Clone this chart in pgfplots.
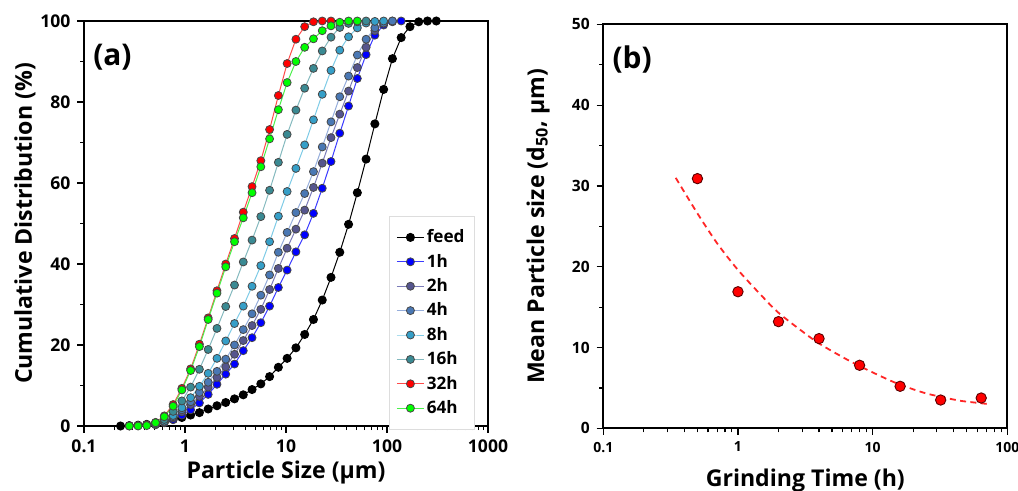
\documentclass[border=0pt]{standalone}
\usepackage{pgfplots}
\pgfplotsset{compat=1.18}
\usepackage{fontspec}
\setmainfont{Open Sans}

\definecolor{cfeed}{HTML}{000000}
\definecolor{c1h}{HTML}{0000FF}
\definecolor{l1h}{HTML}{3A3AFF}
\definecolor{c2h}{HTML}{55558E}
\definecolor{l2h}{HTML}{7B7BB8}
\definecolor{c4h}{HTML}{4A78B4}
\definecolor{l4h}{HTML}{95ADDB}
\definecolor{c8h}{HTML}{359FC8}
\definecolor{l8h}{HTML}{7ECBE6}
\definecolor{c16h}{HTML}{3A8A93}
\definecolor{l16h}{HTML}{84B9BE}
\definecolor{c32h}{HTML}{FF0000}
\definecolor{l32h}{HTML}{FF4A4A}
\definecolor{c64h}{HTML}{00FF00}
\definecolor{l64h}{HTML}{4CF04C}
\definecolor{legfr}{HTML}{DDDDDD}

\pgfplotsset{
  panel/.style={
    scale only axis,
    axis line style={line width=1bp},
    tick align=outside,
    tick pos=left,
    major tick length=3.3bp,
    minor tick length=2bp,
    every tick/.style={black, line width=0.6bp},
    clip=false,
    label style={font=\bfseries\fontsize{11.6}{13}\selectfont},
  },
  ser/.style n args={2}{color=#2, line width=0.5bp, mark=*, mark size=2.0bp,
    mark options={draw=black!72, line width=0.4bp, fill=#1, solid}},
}

\begin{document}
\begin{tikzpicture}
%%%%%%%%%%%%%%%% (a)
\begin{axis}[panel, xmode=log,
  at={(42bp,32.5bp)}, anchor=south west,
  width=202bp, height=202.5bp,
  xmin=0.1, xmax=1000, ymin=0, ymax=100,
  xtick={0.1,1,10,100,1000}, xticklabels={0.1,1,10,100,1000},
  minor xtick={0.2,0.3,0.4,0.5,0.6,0.7,0.8,0.9,2,3,4,5,6,7,8,9,20,30,40,50,60,70,80,90,200,300,400,500,600,700,800,900},
  ytick={0,20,40,60,80,100}, yticklabels={0,20,40,60,80,100},
  minor ytick={10,30,50,70,90},
  tick label style={font=\bfseries\fontsize{8.8}{10}\selectfont},
  xlabel={Particle Size (µm)},
  ylabel={Cumulative Distribution (\%)},
  x label style={at={(axis description cs:0.5,-0.1136)}, anchor=center},
  y label style={at={(axis description cs:-0.146,0.5)}, anchor=center},
  legend style={at={(0.755,0.5185)}, anchor=north west, draw=legfr, line width=0.4bp,
    font=\bfseries\fontsize{8.6}{9}\selectfont, inner xsep=3.5bp, inner ysep=5.5bp,
    row sep=2.2bp,
    nodes={inner sep=1.2bp, text height=6.4bp, text depth=1.2bp}},
  legend cell align=left,
  legend image code/.code={\draw[mark repeat=2,mark phase=2] plot coordinates {(0bp,0bp) (6.75bp,0bp) (13.5bp,0bp)};},
]
\addplot[ser={cfeed}{cfeed}, mark options={draw=black, fill=black}] table {
x y
0.230 0.0
0.281 0.1
0.343 0.2
0.418 0.4
0.511 0.7
0.624 1.1
0.763 1.6
0.931 2.1
1.137 2.7
1.389 3.3
1.696 4.2
2.073 5.0
2.531 5.8
3.092 6.7
3.776 7.7
4.612 9.0
5.634 10.4
6.880 12.2
8.404 14.5
10.26 16.7
12.54 19.3
15.31 22.6
18.70 26.3
22.85 31.1
27.90 36.7
34.08 42.9
41.63 49.8
50.84 57.6
62.10 65.9
75.85 74.6
92.64 83.1
113.2 90.7
138.2 95.9
168.8 98.6
206.2 99.8
251.8 100
307.6 100
};
\addlegendentry{feed}
\addplot[ser={c1h}{l1h}] table {
x y
0.511 0.3
0.624 0.8
0.763 1.6
0.931 2.7
1.137 4.0
1.389 5.7
1.696 7.8
2.073 10.3
2.531 12.8
3.092 15.3
3.776 18.6
4.612 21.8
5.634 25.5
6.880 29.6
8.404 34.2
10.26 38.5
12.54 43.0
15.31 47.2
18.70 52.5
22.85 58.7
27.90 65.3
34.08 72.3
41.63 79.0
50.84 85.8
62.10 91.7
75.85 96.5
92.64 99.0
113.2 99.8
138.2 100
};
\addlegendentry{1h}
\addplot[ser={c2h}{l2h}] table {
x y
0.511 0.4
0.624 1.0
0.763 2.0
0.931 3.5
1.137 5.3
1.389 7.3
1.696 9.6
2.073 12.0
2.531 14.6
3.092 17.7
3.776 21.1
4.612 24.8
5.634 28.8
6.880 33.7
8.404 38.9
10.26 43.9
12.54 48.6
15.31 53.3
18.70 58.9
22.85 64.9
27.90 71.2
34.08 77.0
41.63 82.7
50.84 88.5
62.10 93.5
75.85 97.6
92.64 99.4
113.2 100
};
\addlegendentry{2h}
\addplot[ser={c4h}{l4h}] table {
x y
0.511 0.4
0.624 1.1
0.763 2.3
0.931 4.0
1.137 6.0
1.389 8.3
1.696 10.8
2.073 13.5
2.531 16.5
3.092 20.0
3.776 23.8
4.612 27.7
5.634 32.3
6.880 37.3
8.404 42.9
10.26 47.8
12.54 52.7
15.31 57.4
18.70 62.8
22.85 68.9
27.90 75.1
34.08 81.3
41.63 86.4
50.84 91.6
62.10 95.5
75.85 98.3
92.64 99.5
113.2 100
};
\addlegendentry{4h}
\addplot[ser={c8h}{l8h}] table {
x y
0.511 0.4
0.624 1.2
0.763 2.6
0.931 4.5
1.137 7.0
1.389 9.8
1.696 13.0
2.073 16.7
2.531 21.0
3.092 25.3
3.776 29.6
4.612 34.5
5.634 39.6
6.880 45.5
8.404 51.8
10.26 57.9
12.54 63.6
15.31 69.4
18.70 75.6
22.85 81.9
27.90 87.8
34.08 92.8
41.63 96.1
50.84 98.3
62.10 99.5
75.85 99.9
92.64 100
};
\addlegendentry{8h}
\addplot[ser={c16h}{l16h}] table {
x y
0.511 0.5
0.624 1.6
0.763 3.6
0.931 6.2
1.137 9.6
1.389 14.0
1.696 18.9
2.073 24.1
2.531 29.5
3.092 34.8
3.776 40.5
4.612 45.9
5.634 51.7
6.880 58.2
8.404 65.1
10.26 72.0
12.54 78.0
15.31 83.4
18.70 88.3
22.85 92.6
27.90 96.0
34.08 98.4
41.63 99.4
50.84 99.8
62.10 100
};
\addlegendentry{16h}
\addplot[ser={c32h}{l32h}] table {
x y
0.281 0.0
0.343 0.1
0.418 0.3
0.511 0.9
0.624 2.5
0.763 5.3
0.931 9.3
1.137 14.1
1.389 20.2
1.696 26.7
2.073 33.4
2.531 40.0
3.092 46.3
3.776 52.8
4.612 59.1
5.634 65.5
6.880 73.2
8.404 81.6
10.26 89.5
12.54 95.5
15.31 98.6
18.70 99.8
22.85 100
27.90 100
};
\addlegendentry{32h}
\addplot[ser={c64h}{l64h}] table {
x y
0.281 0.0
0.343 0.0
0.418 0.1
0.511 0.8
0.624 2.3
0.763 4.9
0.931 8.9
1.137 13.7
1.389 19.6
1.696 26.3
2.073 32.8
2.531 39.3
3.092 45.5
3.776 51.4
4.612 57.6
5.634 64.0
6.880 70.9
8.404 78.1
10.26 84.8
12.54 90.0
15.31 93.5
18.70 95.6
22.85 97.6
27.90 98.8
34.08 99.7
41.63 100
50.84 100
};
\addlegendentry{64h}
\node[anchor=west, inner sep=0pt, font=\bfseries\fontsize{15}{18}\selectfont] at (rel axis cs:0.022,0.911) {(a)};
\end{axis}
%%%%%%%%%%%%%%%% (b)
\begin{axis}[panel, xmode=log,
  at={(301.65bp,31.35bp)}, anchor=south west,
  width=202bp, height=202bp,
  xmin=0.1, xmax=100, ymin=0, ymax=50,
  xtick={0.1,1,10,100}, xticklabels={0.1,1,10,100},
  minor xtick={0.2,0.3,0.4,0.5,0.6,0.7,0.8,0.9,2,3,4,5,6,7,8,9,20,30,40,50,60,70,80,90},
  ytick={0,10,20,30,40,50}, yticklabels={0,10,20,30,40,50},
  minor ytick={5,15,25,35,45},
  xticklabel style={font=\bfseries\fontsize{7}{8}\selectfont},
  yticklabel style={font=\bfseries\fontsize{7.8}{9}\selectfont},
  xlabel={Grinding Time (h)},
  ylabel={Mean Particle size (d\textsubscript{50}, µm)},
  x label style={at={(axis description cs:0.5,-0.128)}, anchor=center},
  y label style={at={(axis description cs:-0.1616,0.5)}, anchor=center},
]
\addplot[color=red!85!white, line width=0.9bp, dash pattern=on 3bp off 2.2bp, smooth] coordinates {
(0.345,31.0) (0.5,26.6) (0.7,22.9) (1,19.6) (1.5,16.4) (2,14.3) (3,12.0) (4,10.5)
(6,8.8) (8,7.7) (12,6.3) (16,5.4) (24,4.4) (32,3.9) (45,3.4) (64,3.1) (72,3.0)
};
\addplot[only marks, mark=*, mark size=2.6bp, mark options={fill=red, draw=black!65!red, line width=0.45bp}] coordinates {
(0.5,30.9) (1,16.9) (2,13.2) (4,11.1) (8,7.8) (16,5.2) (32,3.5) (64,3.75)
};
\node[anchor=west, inner sep=0pt, font=\bfseries\fontsize{15}{18}\selectfont] at (rel axis cs:0.022,0.914) {(b)};
\end{axis}
\pgfresetboundingbox
\path[use as bounding box] (0,0) rectangle (509bp,245.5bp);
\end{tikzpicture}
\end{document}
